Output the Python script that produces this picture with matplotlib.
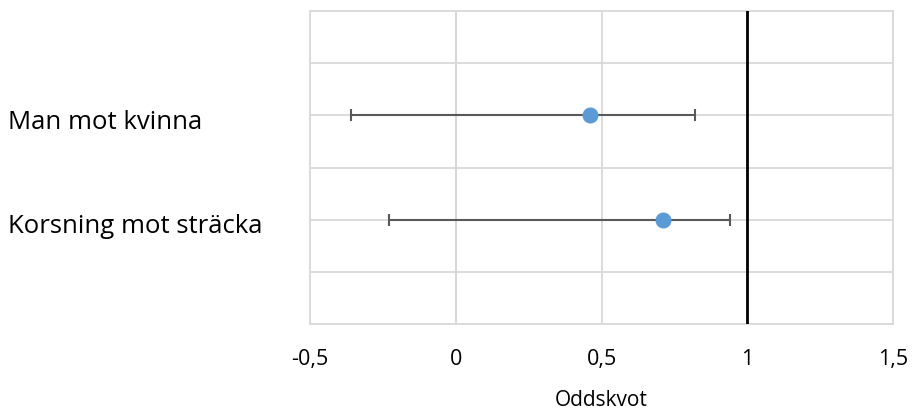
import matplotlib.pyplot as plt
import matplotlib.transforms as mtransforms
from matplotlib.ticker import FuncFormatter, MultipleLocator

plt.rcParams['font.family'] = ['Open Sans', 'DejaVu Sans']

# Odds ratios with confidence limits
labels = ['Man mot kvinna', 'Korsning mot sträcka']
positions = [2, 1]
odds = [0.46, 0.71]
lower = [-0.36, -0.23]
upper = [0.82, 0.94]

fig = plt.figure(figsize=(9.14, 4.14), dpi=100)
ax = fig.add_axes([310 / 914, 1 - 325 / 414, 583 / 914, 313 / 414])

err_lo = [o - l for o, l in zip(odds, lower)]
err_hi = [u - o for o, u in zip(odds, upper)]
ax.errorbar(odds, positions, xerr=[err_lo, err_hi], fmt='none',
            ecolor='#595959', elinewidth=1.5, capsize=4, capthick=1.5, zorder=3)
ax.plot(odds, positions, 'o', color='#5B9BD5', markersize=10.5, zorder=4)

# Reference line at odds ratio 1
ax.axvline(1, color='black', linewidth=2, zorder=5)

ax.set_xlim(-0.5, 1.5)
ax.set_ylim(0, 3)
ax.xaxis.set_major_locator(MultipleLocator(0.5))
ax.yaxis.set_major_locator(MultipleLocator(0.5))
ax.xaxis.set_major_formatter(FuncFormatter(lambda v, p: f'{v:g}'.replace('.', ',')))
ax.grid(True, color='#D9D9D9', linewidth=1.3, zorder=0)
ax.axvline(0, color='#BFBFBF', linewidth=1.3, zorder=1)
for s in ax.spines.values():
    s.set_color('#D9D9D9')
    s.set_linewidth(1.3)

ax.tick_params(axis='x', length=0, pad=17, labelsize=15.5)
ax.tick_params(axis='y', length=0)
ax.set_yticklabels([])
ax.set_xlabel('Oddskvot', fontsize=15, labelpad=15)

# Category labels on the left, left aligned
shift = mtransforms.ScaledTranslation(0, -6 / 100, fig.dpi_scale_trans)
for y, lab in zip(positions, labels):
    ax.text(8 / 914, y, lab, transform=mtransforms.blended_transform_factory(fig.transFigure, ax.transData) + shift,
            ha='left', va='center', fontsize=18.5)

fig.savefig('out.png', dpi=100)
